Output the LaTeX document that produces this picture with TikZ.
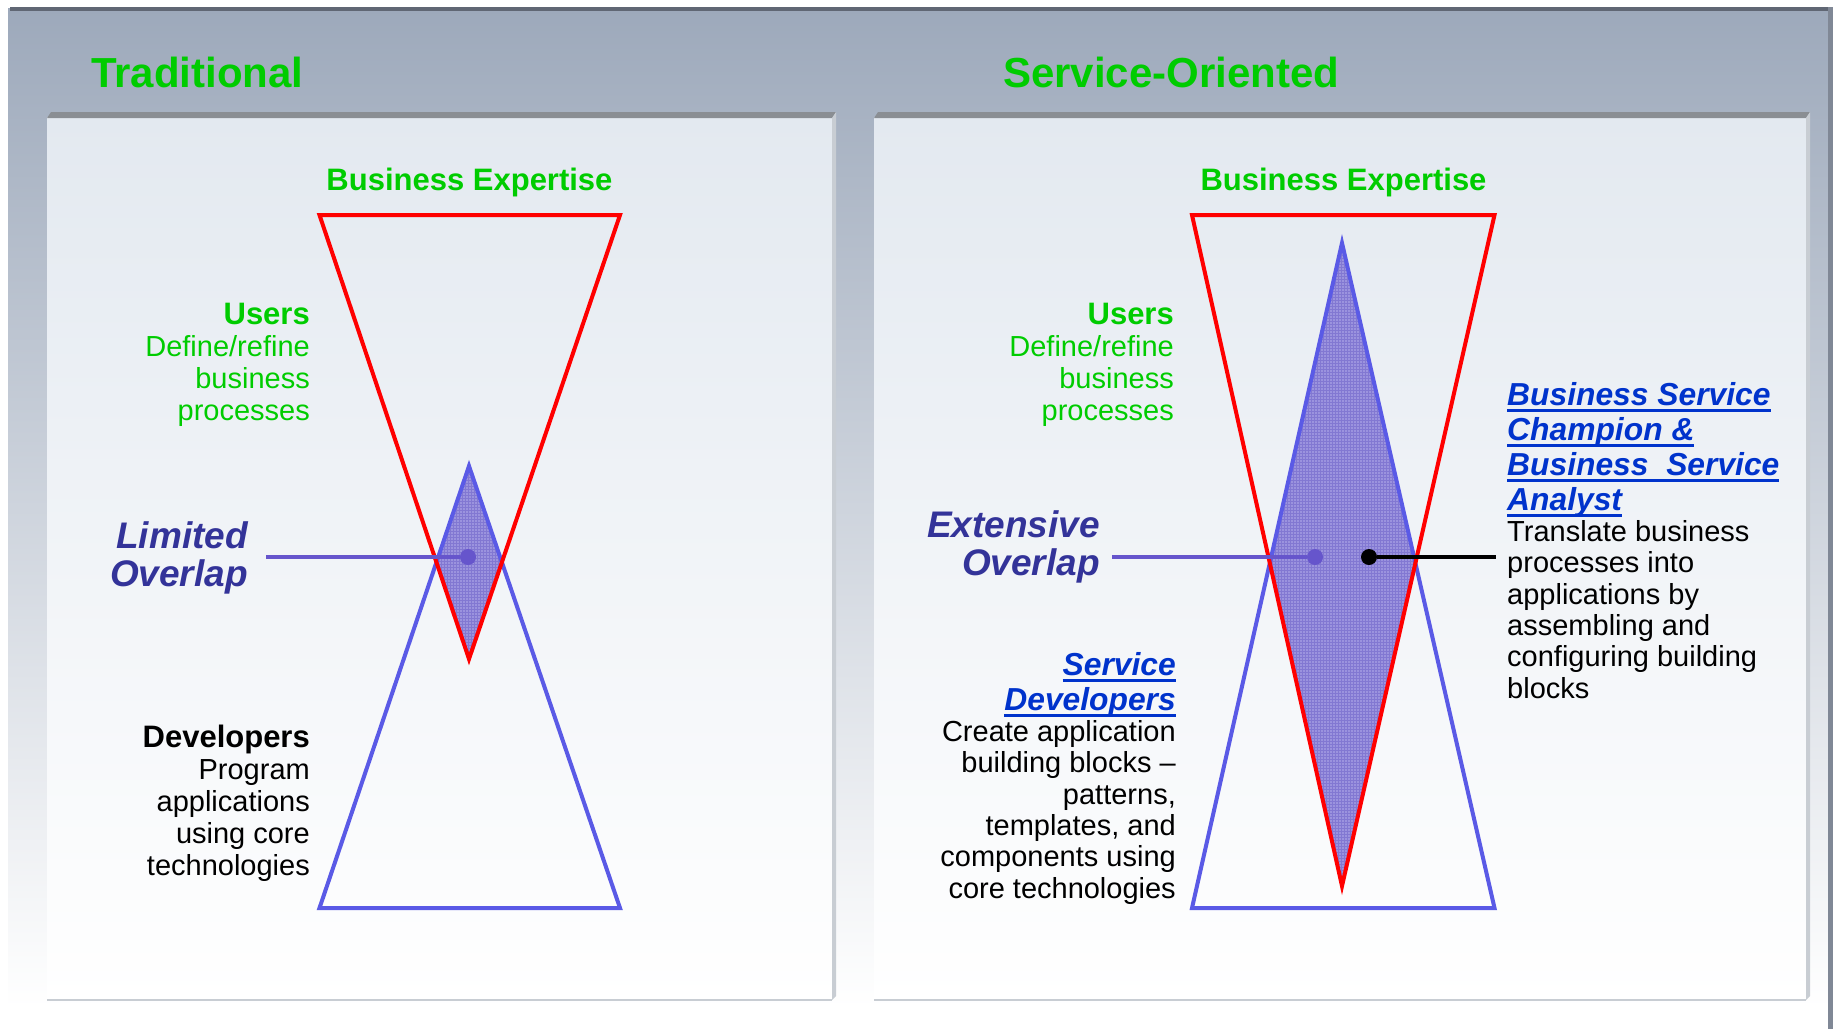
\documentclass[tikz,border=0pt]{standalone}
\usepackage{fontspec}
\setmainfont{Liberation Sans}
\usetikzlibrary{patterns}
\newcommand{\roleul}[1]{\setbox0\hbox{#1}\rlap{\rule[-6.5pt]{\wd0}{2.6pt}}\box0}
\definecolor{biz}{RGB}{0,204,0}
\definecolor{ovtext}{RGB}{51,51,153}
\definecolor{roleblue}{RGB}{0,51,204}
\definecolor{trired}{RGB}{255,0,0}
\definecolor{triblue}{RGB}{90,90,230}
\definecolor{linkpurple}{RGB}{102,85,204}
\definecolor{ovfill}{RGB}{155,147,222}
\definecolor{ovgrid}{RGB}{130,120,210}
\definecolor{outertop}{RGB}{157,169,187}
\definecolor{outermid}{RGB}{196,204,216}
\definecolor{innertop}{RGB}{227,233,240}
\definecolor{rimdark}{RGB}{96,103,116}
\definecolor{rimright}{RGB}{128,136,150}
\definecolor{bandgray}{RGB}{138,142,147}
\definecolor{sidegray}{RGB}{200,205,211}

\begin{document}
\begin{tikzpicture}[x=1pt,y=-1pt,
	title/.style={font=\fontsize{42}{48}\selectfont\bfseries,text=biz,inner sep=0,anchor=base west},
	expertise/.style={font=\fontsize{31}{36}\selectfont\bfseries,text=biz,inner sep=0,anchor=base},
	users/.style={font=\fontsize{29}{32}\selectfont,text=biz,align=right,inner sep=0,anchor=base east},
	devs/.style={font=\fontsize{29}{32}\selectfont,align=right,inner sep=0,anchor=base east},
	ovlabel/.style={font=\fontsize{37}{38}\selectfont\bfseries\itshape,text=ovtext,align=right,inner sep=0,anchor=base east},
	role/.style={font=\fontsize{31.8}{35}\selectfont\bfseries\itshape,text=roleblue,inner sep=0},
	bodytext/.style={font=\fontsize{29}{31.3}\selectfont,inner sep=0},
	redtri/.style={draw=trired,line width=4pt},
	bluetri/.style={draw=triblue,line width=4pt},
	overlapfill/.style={preaction={fill=ovfill},pattern=grid,pattern color=ovgrid},
	linkdot/.style={circle,fill=linkpurple,inner sep=0,minimum size=16pt},
	blackdot/.style={circle,fill=black,inner sep=0,minimum size=16pt},
	link/.style={draw=linkpurple,line width=4pt},
	blacklink/.style={draw=black,line width=4.5pt}]
	\useasboundingbox (0,0) rectangle (1835,1029);
	% outer frame
	\shade[top color=outertop,middle color=outermid,bottom color=white] (8,8) rectangle (1829,1008);
	\fill[rimdark] (10,7) rectangle (1833,11);
	\fill[rimright] (1828,7) rectangle (1833,1029);
	% the two panels
	\foreach \a/\b in {47/832,874/1806} {
		\shade[top color=innertop,bottom color=white] (\a,117) rectangle (\b,1000);
		\fill[bandgray] (\a,118) -- (\a+4,112) -- (\b+4,112) -- (\b,118) -- cycle;
		\fill[sidegray] (\b,118) -- (\b+4,112) -- (\b+4,996) -- (\b,1000) -- cycle;
		\draw[sidegray,line width=1.5pt] (\a,1000) -- (\b,1000);
	}
	\node[title] (trad) at (91,87) {Traditional};
	\node[title] (soa) at (1003,87) {Service-Oriented};

	% traditional
	\coordinate (LRa) at (319.5,215);
	\coordinate (LRb) at (620,215);
	\coordinate (LRc) at (469,659);
	\coordinate (LBa) at (319.5,908);
	\coordinate (LBb) at (620,908);
	\coordinate (LBc) at (469,466);
	\fill[overlapfill] (LBc) -- (intersection of LRb--LRc and LBb--LBc) -- (LRc)
		-- (intersection of LRa--LRc and LBa--LBc) -- cycle;
	\draw[bluetri] (LBa) -- (LBb) -- (LBc) -- cycle;
	\draw[redtri] (LRa) -- (LRb) -- (LRc) -- cycle;
	\node[expertise] (Lexp) at (469.5,190) {Business Expertise};
	\node[users] (Lusers) at (310,420) {{\fontsize{31}{32}\selectfont\bfseries Users}\\Define/refine\\business\\processes};
	\node[devs] (Ldevs) at (310,875) {{\fontsize{31}{32}\selectfont\bfseries Developers}\\Program\\applications\\using core\\technologies};
	\node[ovlabel] (Lover) at (248,586) {Limited\\Overlap};
	\coordinate (Lstart) at (266,557);
	\node[linkdot] (Ldot) at (468,557) {};
	\draw[link] (Lstart) -- (Ldot);

	% service-oriented
	\coordinate (RRa) at (1192,215);
	\coordinate (RRb) at (1494.5,215);
	\coordinate (RRc) at (1342,886);
	\coordinate (RBa) at (1192,908);
	\coordinate (RBb) at (1494.5,908);
	\coordinate (RBc) at (1342,243);
	\fill[overlapfill] (RBc) -- (intersection of RRb--RRc and RBb--RBc) -- (RRc)
		-- (intersection of RRa--RRc and RBa--RBc) -- cycle;
	\draw[bluetri] (RBa) -- (RBb) -- (RBc) -- cycle;
	\draw[redtri] (RRa) -- (RRb) -- (RRc) -- cycle;
	\node[expertise] (Rexp) at (1343.5,190) {Business Expertise};
	\node[users] (Rusers) at (1174,420) {{\fontsize{31}{32}\selectfont\bfseries Users}\\Define/refine\\business\\processes};
	\node[ovlabel] (Rover) at (1100,575) {Extensive\\Overlap};
	\coordinate (Rstart) at (1112,557);
	\node[linkdot] (Rdot) at (1315,557) {};
	\draw[link] (Rstart) -- (Rdot);
	\node[blackdot] (Rbdot) at (1369,557) {};
	\coordinate (Rend) at (1496,557);
	\draw[blacklink] (Rbdot) -- (Rend);
	\node[role,align=right,anchor=base east] (Rsd) at (1176,710) {\roleul{Service}\\\roleul{Developers}};
	\node[bodytext,align=right,anchor=base east] (Rsdtxt) at (1176,898) {Create application\\building blocks --\\patterns,\\templates, and\\components using\\core technologies};
	\node[role,align=left,anchor=base west] (Rbsc) at (1507,510) {\roleul{Business Service}\\\roleul{Champion \&}\\\roleul{Business\ \ Service}\\\roleul{Analyst}};
	\node[bodytext,align=left,anchor=base west] (Rbsctxt) at (1507,698) {Translate business\\processes into\\applications by\\assembling and\\configuring building\\blocks};
\end{tikzpicture}
\end{document}
